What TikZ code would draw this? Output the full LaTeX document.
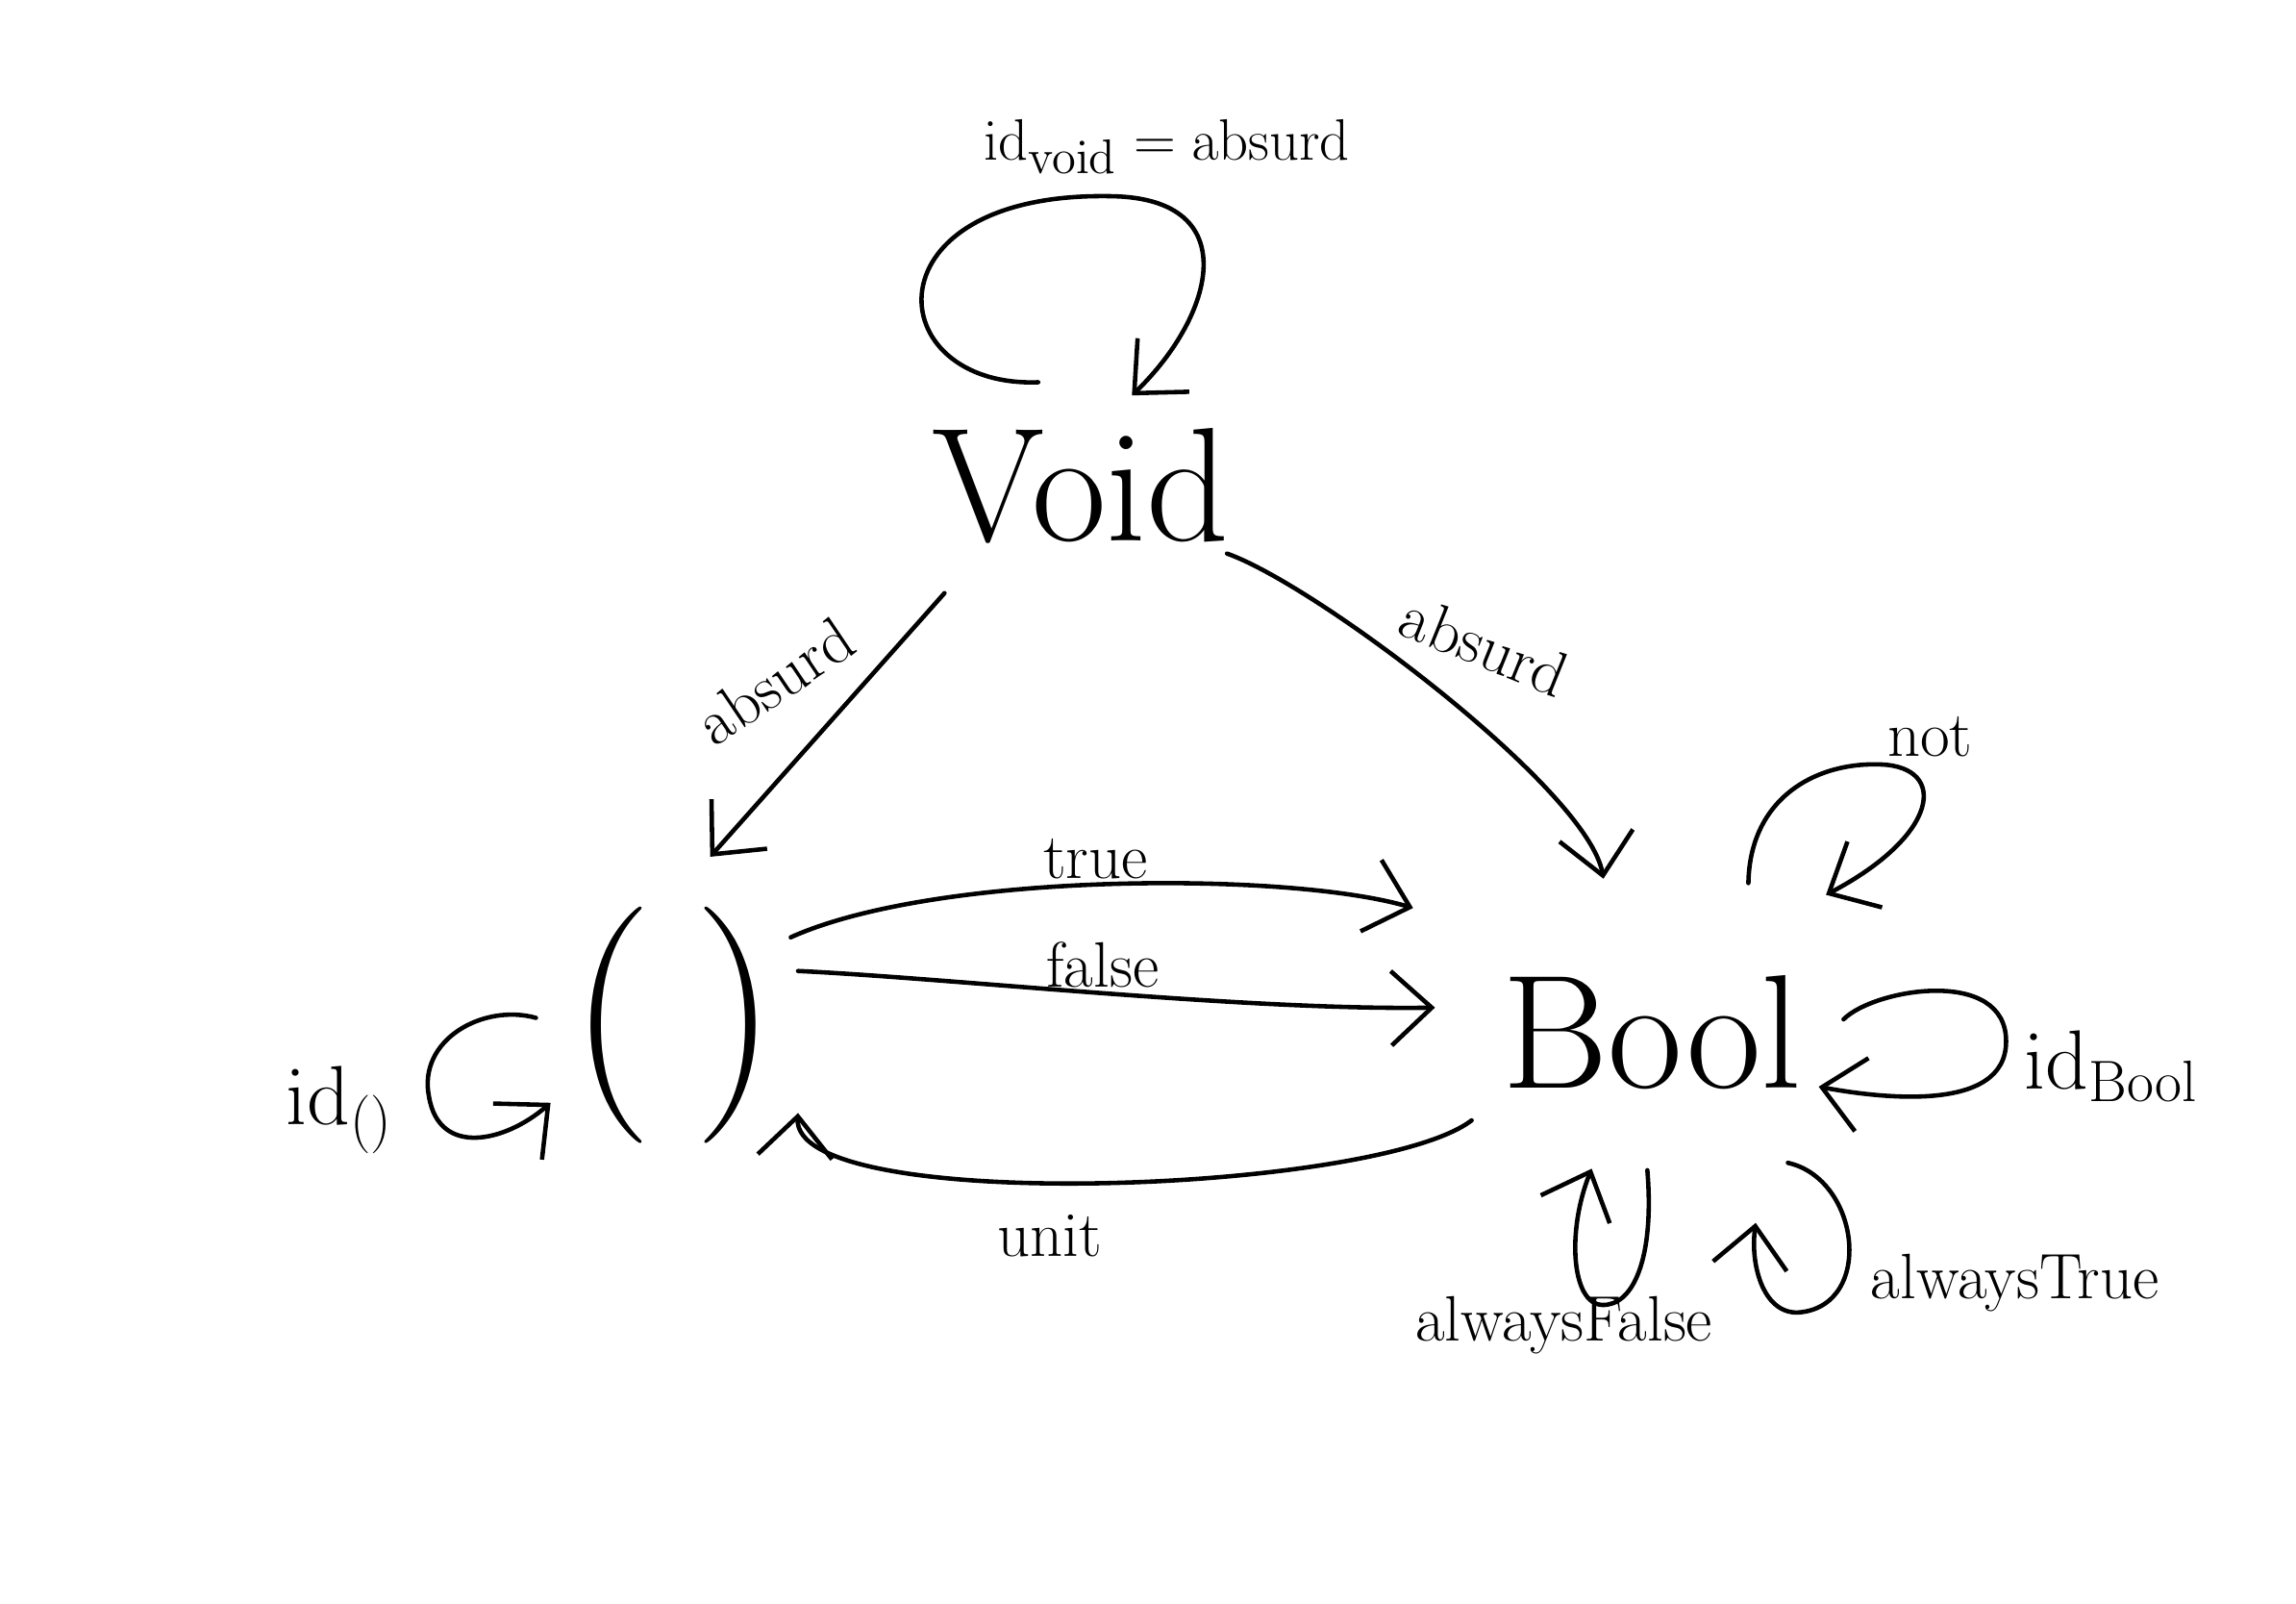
\documentclass[tikz,border=0pt]{standalone}
\usepackage{amsmath}
\usepackage{tikz}
\usetikzlibrary{arrows.meta,calc}

\begin{document}
\begin{tikzpicture}[x=0.01523cm, y=-0.01523cm,
    obj/.style={inner sep=2pt, font=\fontsize{48}{56}\selectfont},
    lbl/.style={inner sep=1pt, font=\fontsize{19}{23}\selectfont},
    big/.style={font=\fontsize{23}{27}\selectfont},
    mor/.style={line width=1.3pt, line cap=round, line join=round,
      -{Straight Barb[length=12pt,width=22pt]}}]
  % canvas
  \useasboundingbox (0,0) rectangle (1568,1095);

  % objects
  \node[obj] (void) at (738,332) {Void};
  \node[obj, font=\fontsize{70}{80}\selectfont] (unit) at (460,700) {(\hspace{12pt})};
  \node[obj] (bool) at (1128,705) {Bool};

  % morphisms between objects
  \draw[mor] ($(void)+(-93,73)$) -- node[lbl, shift={(-36,-30)}, rotate=34] (absl) {absurd} ($(unit)+(25,-115)$);
  \draw[mor] ($(void)+(100,46)$) .. controls (900,400) and (1085,540) ..
    node[lbl, shift={(28,-34)}, rotate=-22] (absr) {absurd} ($(bool)+(-33,-105)$);
  \draw[mor] ($(unit)+(80,-60)$) .. controls (640,595) and (880,595) ..
    node[lbl, above=0pt, pos=0.48] (tru) {true} ($(bool)+(-163,-85)$);
  \draw[mor] ($(unit)+(85,-37)$) .. controls (650,668) and (850,690) ..
    node[lbl, above=0pt] (fls) {false} ($(bool)+(-148,-17)$);
  \draw[mor] ($(bool)+(-123,60)$) .. controls (940,815) and (540,830) ..
    node[lbl, below=8pt, pos=0.55] (unt) {unit} ($(unit)+(85,60)$);

  % loops
  \draw[mor] ($(void)+(-29,-71)$) .. controls (600,265) and (590,130) .. (760,134)
    .. controls (850,136) and (830,215) .. ($(void)+(35,-62)$);
  \draw[mor] ($(unit)+(-94,-5)$) .. controls (330,685) and (285,710) .. (293,749)
    .. controls (300,790) and (345,780) .. ($(unit)+(-84,53)$);
  \draw[mor] ($(bool)+(66,-102)$) .. controls (1195,545) and (1240,520) .. (1285,522)
    .. controls (1330,524) and (1325,570) .. ($(bool)+(119,-94)$);
  \draw[mor] ($(bool)+(131,-9)$) .. controls (1280,675) and (1370,660) .. (1370,711)
    .. controls (1370,760) and (1285,750) .. ($(bool)+(114,37)$);
  \draw[mor] ($(bool)+(-3,94)$) .. controls (1130,860) and (1115,892) .. (1094,891)
    .. controls (1073,890) and (1070,840) .. ($(bool)+(-41,93)$);
  \draw[mor] ($(bool)+(93,89)$) .. controls (1270,805) and (1280,890) .. (1230,896)
    .. controls (1205,899) and (1195,865) .. ($(bool)+(71,130)$);

  % labels
  \node[lbl] (idvoid) at (797,100) {$\mathrm{id}_{\mathrm{void}}=\mathrm{absurd}$};
  \node[lbl, big] (idunit) at (232,758) {$\mathrm{id}_{()}$};
  \node[lbl] (neg) at (1318,503) {not};
  \node[lbl, big] (idbool) at (1442,728) {$\mathrm{id}_{\mathrm{Bool}}$};
  \node[lbl] (afalse) at (1068,905) {alwaysFalse};
  \node[lbl] (atrue) at (1376,876) {alwaysTrue};
\end{tikzpicture}
\end{document}
